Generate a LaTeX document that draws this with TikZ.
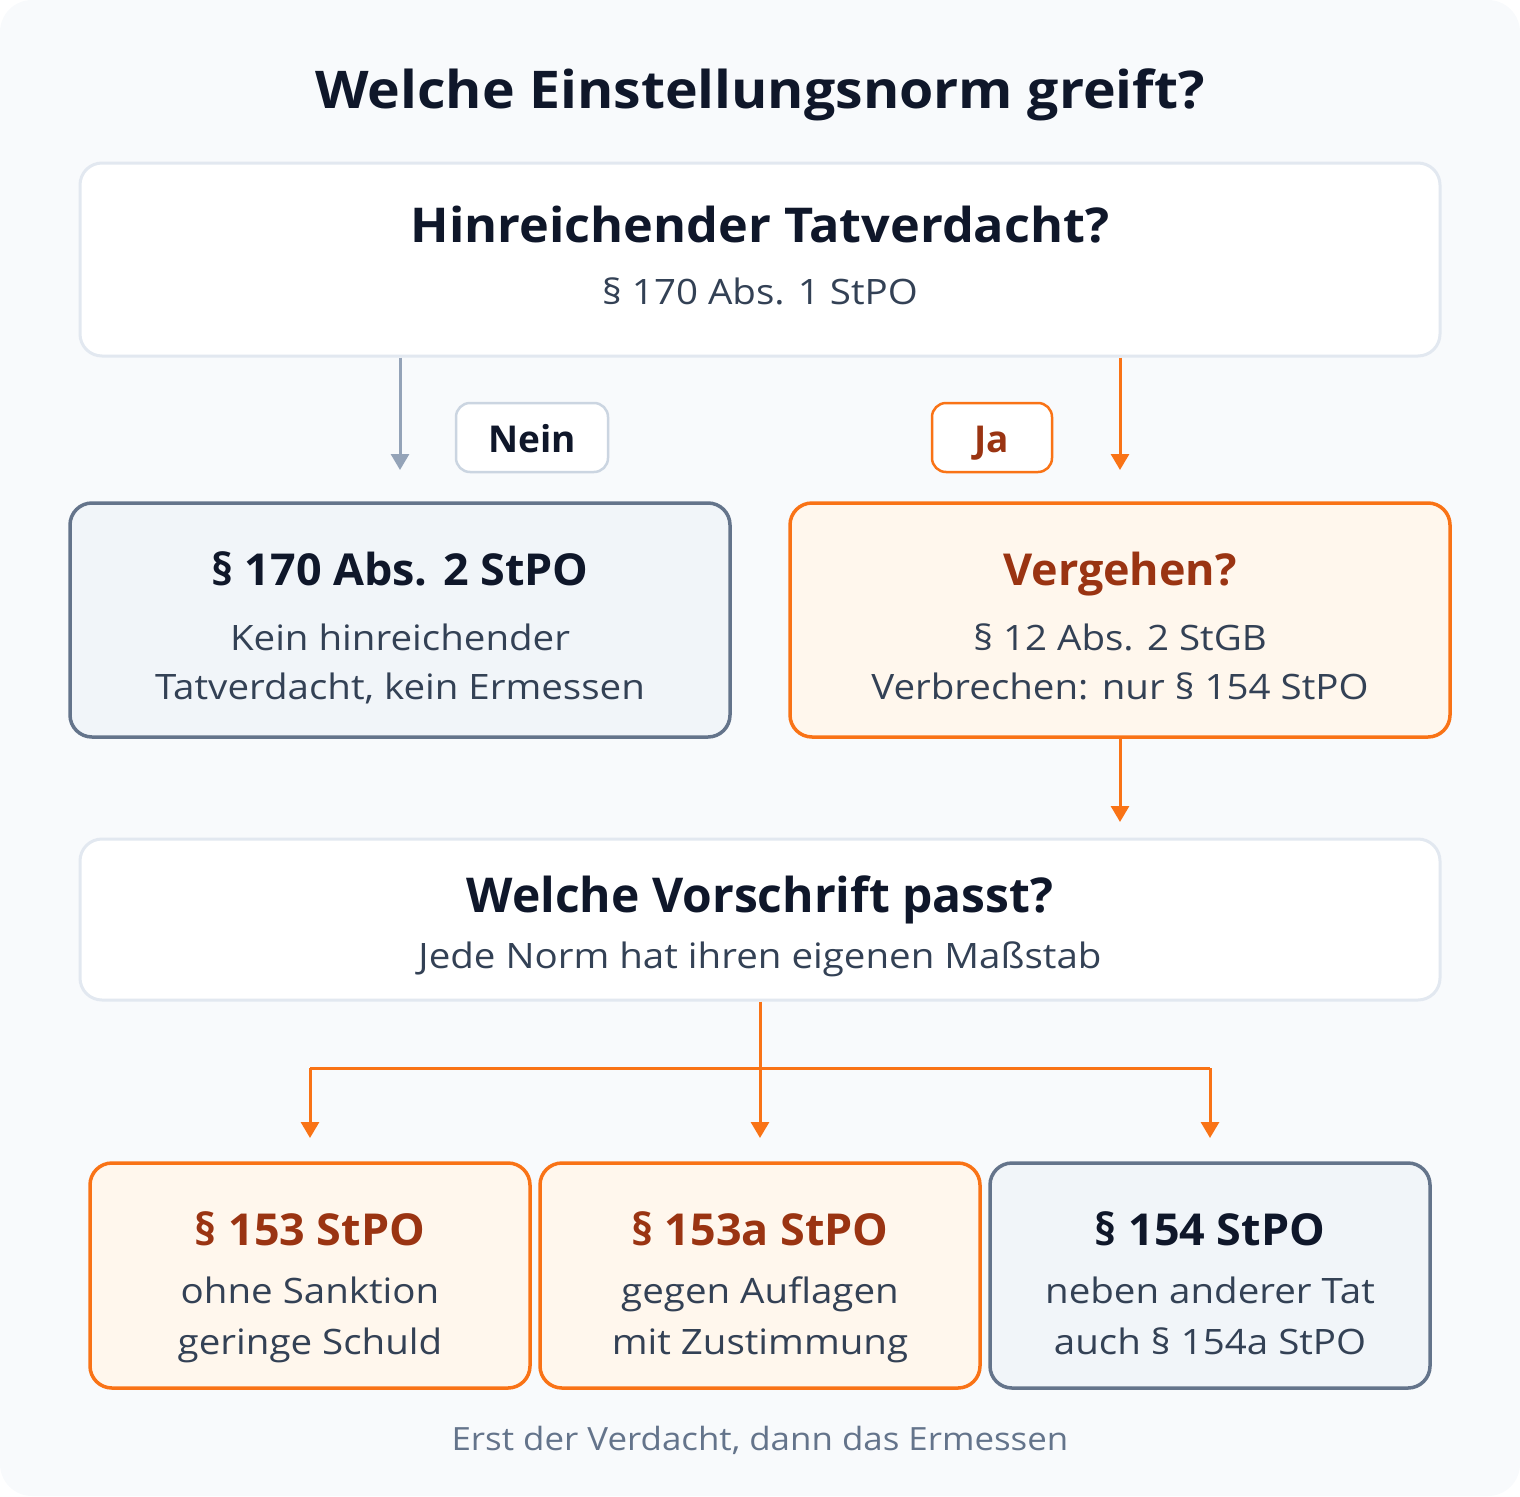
\documentclass[tikz,border=0pt]{standalone}
\usepackage{fontspec}
\setmainfont{Open Sans}
\newfontfamily\subfont[FakeStretch=1.1]{Open Sans}
\newfontfamily\footfont[FakeStretch=1.09]{Open Sans}
\newfontfamily\titlefont[FakeStretch=1.065]{Open Sans}
\newfontfamily\headfont[FakeStretch=1.05]{Open Sans}
\newfontfamily\boxfont[FakeStretch=1.02]{Open Sans}
\usetikzlibrary{arrows.meta}
\definecolor{bgc}{HTML}{F8FAFC}
\definecolor{lightborder}{HTML}{E2E8F0}
\definecolor{grayarrow}{HTML}{94A3B8}
\definecolor{neinborder}{HTML}{CBD5E1}
\definecolor{darktext}{HTML}{0F172A}
\definecolor{subtext}{HTML}{334155}
\definecolor{orange}{HTML}{F97316}
\definecolor{orangetext}{HTML}{9A3412}
\definecolor{orangefill}{HTML}{FFF7ED}
\definecolor{grayfill}{HTML}{F1F5F9}
\definecolor{grayborder}{HTML}{64748B}
\tikzset{
  whitebox/.style={draw=lightborder, line width=3pt, fill=white, rounded corners=22pt, inner sep=0pt},
  orangebox/.style={draw=orange, line width=3.5pt, fill=orangefill, rounded corners=22pt, inner sep=0pt},
  graybox/.style={draw=grayborder, line width=3.5pt, fill=grayfill, rounded corners=22pt, inner sep=0pt},
  tag/.style={line width=2.5pt, fill=white, rounded corners=14pt, inner sep=0pt},
  headtxt/.style={anchor=base, inner sep=0pt, text=darktext, font=\boxfont\fontsize{44}{48}\selectfont\bfseries},
  subtxt/.style={anchor=base, inner sep=0pt, text=subtext, font=\subfont\fontsize{35}{40}\selectfont},
  grayarr/.style={draw=grayarrow, line width=3pt, -{Triangle[length=16pt,width=18pt]}},
  orarr/.style={draw=orange, line width=3pt, -{Triangle[length=16pt,width=18pt]}},
  orline/.style={draw=orange, line width=3pt},
}
\begin{document}
\begin{tikzpicture}[x=1pt,y=-1pt]
\useasboundingbox (0,0) rectangle (1520,1496);
\fill[bgc, rounded corners=32pt] (0,0) rectangle (1520,1496);

\node[headtxt, font=\titlefont\fontsize{52}{56}\selectfont\bfseries] (title) at (760,108) {Welche Einstellungsnorm greift?};

% top box
\node[whitebox, minimum width=1360pt, minimum height=193pt] (top) at (760,259.5) {};
\node[headtxt, font=\headfont\fontsize{48}{52}\selectfont\bfseries] (toph) at (760,242) {Hinreichender Tatverdacht?};
\node[subtxt] (tops) at (760,304) {§ 170 Abs. 1 StPO};

% tags
\node[tag, draw=neinborder, minimum width=152pt, minimum height=69pt] (nein) at (532,437.5) {};
\node[headtxt, font=\fontsize{37}{40}\selectfont\bfseries] (neint) at (532,452) {Nein};
\node[tag, draw=orange, minimum width=120pt, minimum height=69pt] (ja) at (992,437.5) {};
\node[headtxt, text=orangetext, font=\fontsize{37}{40}\selectfont\bfseries] (jat) at (992,452) {Ja};

% second row
\node[graybox, minimum width=660pt, minimum height=234pt] (left) at (400,620) {};
\node[headtxt] (lefth) at (400,585) {§ 170 Abs. 2 StPO};
\node[subtxt] (lefts1) at (400,650) {Kein hinreichender};
\node[subtxt] (lefts2) at (400,699) {Tatverdacht, kein Ermessen};

\node[orangebox, minimum width=660pt, minimum height=234pt] (right) at (1120,620) {};
\node[headtxt, text=orangetext] (righth) at (1120,585) {Vergehen?};
\node[subtxt] (rights1) at (1120,650) {§ 12 Abs. 2 StGB};
\node[subtxt] (rights2) at (1120,699) {Verbrechen: nur § 154 StPO};

% arrows from top
\coordinate (ltip) at (400,470);
\coordinate (rtip) at (1120,470);
\draw[grayarr] (top.south -| ltip) -- (ltip);
\draw[orarr] (top.south -| rtip) -- (rtip);

% middle box
\node[whitebox, minimum width=1360pt, minimum height=161pt] (mid) at (760,919.5) {};
\node[headtxt, font=\fontsize{48}{52}\selectfont\bfseries] (midh) at (760,912) {Welche Vorschrift passt?};
\node[subtxt] (mids) at (760,968) {Jede Norm hat ihren eigenen Maßstab};

\coordinate (mtip) at (1120,822);
\draw[orarr] (right.south) -- (mtip);

% bottom boxes
\node[orangebox, minimum width=440pt, minimum height=225pt] (b1) at (310,1275.5) {};
\node[headtxt, text=orangetext] (b1h) at (310,1245) {§ 153 StPO};
\node[subtxt] (b1s1) at (310,1303) {ohne Sanktion};
\node[subtxt] (b1s2) at (310,1354) {geringe Schuld};

\node[orangebox, minimum width=440pt, minimum height=225pt] (b2) at (760,1275.5) {};
\node[headtxt, text=orangetext] (b2h) at (760,1245) {§ 153a StPO};
\node[subtxt] (b2s1) at (760,1303) {gegen Auflagen};
\node[subtxt] (b2s2) at (760,1354) {mit Zustimmung};

\node[graybox, minimum width=440pt, minimum height=225pt] (b3) at (1210,1275.5) {};
\node[headtxt] (b3h) at (1210,1245) {§ 154 StPO};
\node[subtxt] (b3s1) at (1210,1303) {neben anderer Tat};
\node[subtxt] (b3s2) at (1210,1354) {auch § 154a StPO};

% branching
\coordinate (bj) at (760,1068);
\coordinate (t1) at (310,1138);
\coordinate (t2) at (760,1138);
\coordinate (t3) at (1210,1138);
\draw[orline] (mid.south) -- (bj);
\draw[orline] (bj -| t1) -- (bj -| t3);
\draw[orarr] (bj -| t1) -- (t1);
\draw[orarr] (bj) -- (t2);
\draw[orarr] (bj -| t3) -- (t3);

\node[anchor=base, inner sep=0pt, text=grayborder, font=\footfont\fontsize{32}{36}\selectfont] (foot) at (760,1450) {Erst der Verdacht, dann das Ermessen};
\end{tikzpicture}
\end{document}
